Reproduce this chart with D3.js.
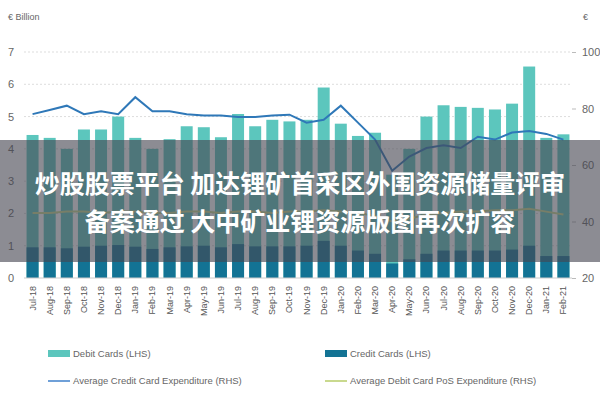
<!DOCTYPE html><html><head><meta charset="utf-8"><script src="https://cdn.jsdelivr.net/npm/d3@7"></script>
<style>body{margin:0;background:#fff}svg{font-family:"Liberation Sans",Arial,sans-serif}</style></head><body><svg id="c" width="600" height="400"></svg>
<script>
const months=["Jul-18","Aug-18","Sep-18","Oct-18","Nov-18","Dec-18","Jan-19","Feb-19","Mar-19","Apr-19","May-19","Jun-19","Jul-19","Aug-19","Sep-19","Oct-19","Nov-19","Dec-19","Jan-20","Feb-20","Mar-20","Apr-20","May-20","Jun-20","Jul-20","Aug-20","Sep-20","Oct-20","Nov-20","Dec-20","Jan-21","Feb-21"];
const debitCards=[4.43,4.34,4.0,4.6,4.6,5.0,4.34,4.0,4.3,4.7,4.67,4.36,5.08,4.7,4.9,4.85,4.9,5.9,4.78,4.4,4.5,3.2,4.0,5.0,5.35,5.3,5.27,5.22,5.4,6.55,4.34,4.45];
const creditCards=[0.95,0.95,0.92,0.97,1.0,1.02,0.97,0.9,0.95,0.98,1.0,0.95,1.05,0.98,0.98,0.98,1.0,1.15,1.0,0.85,0.75,0.45,0.58,0.75,0.85,0.85,0.85,0.85,0.88,1.0,0.68,0.68];
const avgCreditExp=[78,79.5,81,78,79,78,84,79,79,78,77.5,77.5,77,77,77.5,77.8,75,76,81,75,69,58,63,66,67,66,70,69,71.5,72,71,69];
const avgDebitPoS=[43,43,43.5,43.5,43,43.5,43.5,43,43,43.5,43.5,43,43.5,43.5,43,43.5,43.5,44,43.5,43,42,40,41,42.5,43,43.5,43.5,44,44,44.5,43.5,42.5];
const leftTicks=[0,1,2,3,4,5,6,7];
const rightTicks=[20,40,60,80,100];
const svg=d3.select("#c");
const x=d3.scaleBand().domain(months).range([24,572]).paddingInner(0.3).paddingOuter(0.15);
const yL=d3.scaleLinear().domain([0,7]).range([278,52]);
const yR=d3.scaleLinear().domain([20,100]).range([278,52]);
svg.append("g").selectAll("line").data(leftTicks.slice(1)).join("line")
 .attr("x1",24).attr("x2",572).attr("y1",d=>yL(d)).attr("y2",d=>yL(d))
 .attr("stroke","#ddd").attr("stroke-dasharray","2,2");
svg.append("g").attr("transform","translate(24,0)").call(d3.axisLeft(yL).tickValues(leftTicks).tickFormat(d3.format("d")).tickSize(0).tickPadding(10))
 .call(g=>g.select(".domain").remove()).selectAll("text").attr("fill","#666").attr("font-size",11);
svg.append("g").attr("transform","translate(572,0)").call(d3.axisRight(yR).tickValues(rightTicks).tickSize(4).tickPadding(6))
 .call(g=>g.select(".domain").remove()).call(g=>g.selectAll("line").attr("stroke","#bbb")).selectAll("text").attr("fill","#666").attr("font-size",11);
svg.append("g").selectAll("rect").data(months).join("rect")
 .attr("x",d=>x(d)).attr("width",x.bandwidth()).attr("y",(d,i)=>yL(debitCards[i])).attr("height",(d,i)=>yL(0)-yL(debitCards[i])).attr("fill","#5cc6bd");
svg.append("g").selectAll("rect").data(months).join("rect")
 .attr("x",d=>x(d)).attr("width",x.bandwidth()).attr("y",(d,i)=>yL(creditCards[i])).attr("height",(d,i)=>yL(0)-yL(creditCards[i])).attr("fill","#137394");
const cx=d=>x(d)+x.bandwidth()/2;
svg.append("path").datum(months).attr("fill","none").attr("stroke","#c9d98e").attr("stroke-width",2)
 .attr("d",d3.line().x(cx).y((d,i)=>yR(avgDebitPoS[i])));
svg.append("path").datum(months).attr("fill","none").attr("stroke","#2f78b8").attr("stroke-width",2)
 .attr("d",d3.line().x(cx).y((d,i)=>yR(avgCreditExp[i])));
svg.append("line").attr("x1",24).attr("x2",572).attr("y1",yL(0)).attr("y2",yL(0)).attr("stroke","#ccc");
svg.append("g").selectAll("text").data(months).join("text")
 .attr("transform",d=>`translate(${cx(d)+3},286) rotate(-90)`).attr("text-anchor","end")
 .attr("font-size",9).attr("fill","#555").text(d=>d);
svg.append("text").attr("x",8).attr("y",20).attr("font-size",9).attr("fill","#666").text("€ Billion");
svg.append("text").attr("x",583).attr("y",20).attr("font-size",9).attr("fill","#666").text("€");
const leg=[["Debit Cards (LHS)","#5cc6bd","rect",48,354],["Credit Cards (LHS)","#137394","rect",325,354],
 ["Average Credit Card Expenditure (RHS)","#6fa0d8","line",48,381],["Average Debit Card PoS Expenditure (RHS)","#c9d98e","line",325,381]];
leg.forEach(([t,c,k,lx,ly])=>{
 if(k==="rect")svg.append("rect").attr("x",lx).attr("y",ly-4).attr("width",22).attr("height",7).attr("fill",c);
 else svg.append("line").attr("x1",lx).attr("x2",lx+22).attr("y1",ly).attr("y2",ly).attr("stroke",c).attr("stroke-width",2);
 svg.append("text").attr("x",lx+25).attr("y",ly+3).attr("font-size",9.5).attr("fill","#666").text(t);
});
svg.append("rect").attr("x",0).attr("y",140).attr("width",600).attr("height",122).attr("fill","rgba(70,70,80,0.62)");
const bannerLines=["炒股股票平台 加达锂矿首采区外围资源储量评审","备案通过 大中矿业锂资源版图再次扩容"];
svg.append("g").selectAll("text").data(bannerLines).join("text").attr("x",300).attr("y",(d,i)=>193+i*38)
 .attr("text-anchor","middle").attr("font-family","Noto Sans CJK SC").attr("font-weight","bold").attr("font-size",25).attr("fill","#fff").text(d=>d);
</script></body></html>
